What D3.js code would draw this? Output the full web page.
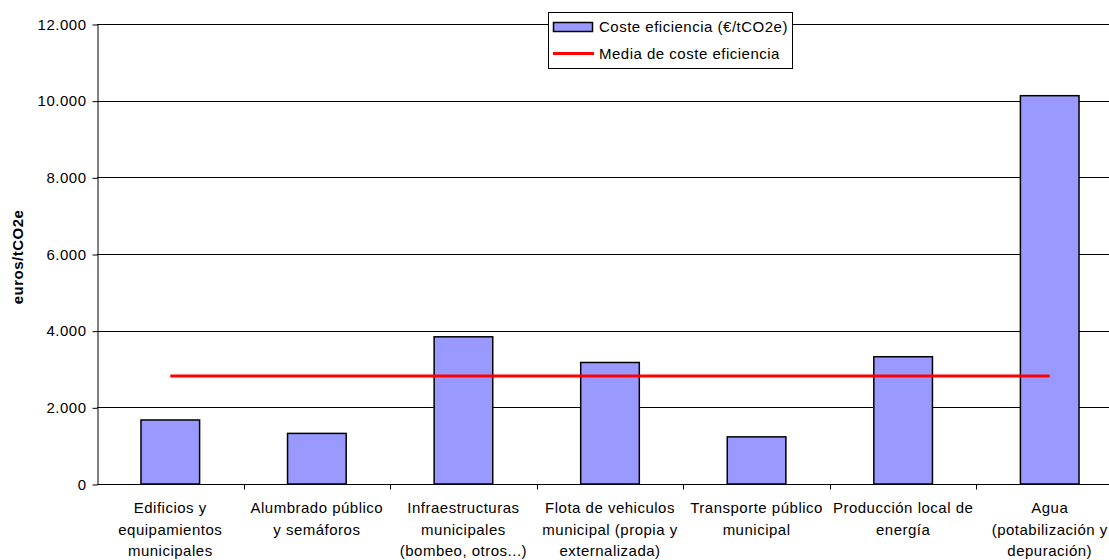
<!DOCTYPE html>
<html>
<head>
<meta charset="utf-8">
<script src="https://cdn.jsdelivr.net/npm/d3@7"></script>
<style>
  html, body { margin: 0; padding: 0; background: #fff; }
  svg { display: block; font-family: "Liberation Sans", Arial, sans-serif; }
  svg text { letter-spacing: 0.5px; }
</style>
</head>
<body>
<svg id="chart" width="1109" height="560"></svg>
<script>
// Categorías del eje X (cada elemento es una lista de líneas del rótulo)
const categories = [
  ["Edificios y", "equipamientos", "municipales"],
  ["Alumbrado público", "y semáforos"],
  ["Infraestructuras", "municipales", "(bombeo, otros...)"],
  ["Flota de vehiculos", "municipal (propia y", "externalizada)"],
  ["Transporte público", "municipal"],
  ["Producción local de", "energía"],
  ["Agua", "(potabilización y", "depuración)"]
];
// Coste eficiencia por sector (€/tCO2e)
const costeEficiencia = [1670, 1320, 3840, 3170, 1230, 3320, 10130];
// Media de coste eficiencia (€/tCO2e)
const mediaCoste = 2820;
// Marcas del eje Y
const yTicks = [0, 2000, 4000, 6000, 8000, 10000, 12000];

const legendLabels = ["Coste eficiencia (€/tCO2e)", "Media de coste eficiencia"];
const yTitle = "euros/tCO2e";

const FONT = 15;
const svg = d3.select("#chart");
const plot = { left: 97, top: 24, right: 1123, bottom: 484 };

const keys = categories.map((c, i) => "c" + i);
const x = d3.scaleBand().domain(keys).range([plot.left, plot.right]).padding(0);
const y = d3.scaleLinear().domain([0, 12000]).range([plot.bottom, plot.top]);

const es = d3.formatLocale({ decimal: ",", thousands: ".", grouping: [3], currency: ["", " €"] });
const fmt = es.format(",d");

// Líneas de división horizontales
svg.append("g")
  .selectAll("line")
  .data(yTicks.filter(d => d > 0))
  .join("line")
  .attr("x1", plot.left).attr("x2", plot.right)
  .attr("y1", d => Math.round(y(d)) + 0.5).attr("y2", d => Math.round(y(d)) + 0.5)
  .attr("stroke", "#000").attr("stroke-width", 1);

// Eje Y
const yAxis = svg.append("g")
  .attr("transform", `translate(${plot.left + 0.5},0.5)`)
  .call(d3.axisLeft(y).tickValues(yTicks).tickFormat(fmt).tickSize(5).tickSizeOuter(0).tickPadding(6));
yAxis.select(".domain").attr("stroke", "#000");
yAxis.selectAll(".tick line").attr("stroke", "#000");
yAxis.selectAll("text").attr("font-size", FONT).attr("fill", "#000")
  .attr("font-family", "Liberation Sans, Arial, sans-serif");

// Barras
const barW = x.bandwidth() * 0.4;
svg.append("g")
  .selectAll("rect")
  .data(costeEficiencia)
  .join("rect")
  .attr("x", (d, i) => x(keys[i]) + x.bandwidth() / 2 - barW / 2)
  .attr("y", d => y(d))
  .attr("width", barW)
  .attr("height", d => y(0) - y(d))
  .attr("fill", "#9999FF")
  .attr("stroke", "#000")
  .attr("stroke-width", 1.5);

// Línea de la media
svg.append("line")
  .attr("x1", x(keys[0]) + x.bandwidth() / 2)
  .attr("x2", x(keys[keys.length - 1]) + x.bandwidth() / 2)
  .attr("y1", y(mediaCoste)).attr("y2", y(mediaCoste))
  .attr("stroke", "#FF0000").attr("stroke-width", 3);

// Eje X
const xAxis = svg.append("g")
  .attr("transform", `translate(0,${plot.bottom + 0.5})`);
xAxis.append("line")
  .attr("x1", plot.left).attr("x2", plot.right)
  .attr("stroke", "#000");
xAxis.selectAll("line.tk")
  .data(keys.slice(1))
  .join("line")
  .attr("class", "tk")
  .attr("x1", d => Math.round(x(d)) + 0.5).attr("x2", d => Math.round(x(d)) + 0.5)
  .attr("y1", 0).attr("y2", 5)
  .attr("stroke", "#000");

// Rótulos de categorías
const labels = svg.append("g")
  .attr("font-size", FONT)
  .attr("text-anchor", "middle")
  .attr("fill", "#000");
categories.forEach((lines, i) => {
  const t = labels.append("text")
    .attr("x", x(keys[i]) + x.bandwidth() / 2)
    .attr("y", 513);
  lines.forEach((ln, j) => {
    t.append("tspan")
      .attr("x", x(keys[i]) + x.bandwidth() / 2)
      .attr("dy", j === 0 ? 0 : 21.5)
      .text(ln);
  });
});

// Título del eje Y
svg.append("text")
  .attr("transform", `translate(23,257) rotate(-90)`)
  .attr("text-anchor", "middle")
  .attr("font-size", FONT)
  .attr("font-weight", "bold")
  .attr("fill", "#000")
  .text(yTitle);

// Leyenda
const lg = svg.append("g");
lg.append("rect")
  .attr("x", 548.5).attr("y", 12.5)
  .attr("width", 244).attr("height", 56)
  .attr("fill", "#fff").attr("stroke", "#000");
lg.append("rect")
  .attr("x", 553.5).attr("y", 22.5)
  .attr("width", 39).attr("height", 9)
  .attr("fill", "#9999FF").attr("stroke", "#000").attr("stroke-width", 1.5);
lg.append("line")
  .attr("x1", 553).attr("x2", 594)
  .attr("y1", 53.5).attr("y2", 53.5)
  .attr("stroke", "#FF0000").attr("stroke-width", 3);
lg.selectAll("text.lt")
  .data(legendLabels)
  .join("text")
  .attr("class", "lt")
  .attr("x", 599)
  .attr("y", (d, i) => 32 + i * 26.7)
  .attr("font-size", FONT)
  .attr("fill", "#000")
  .text(d => d);
</script>
</body>
</html>
